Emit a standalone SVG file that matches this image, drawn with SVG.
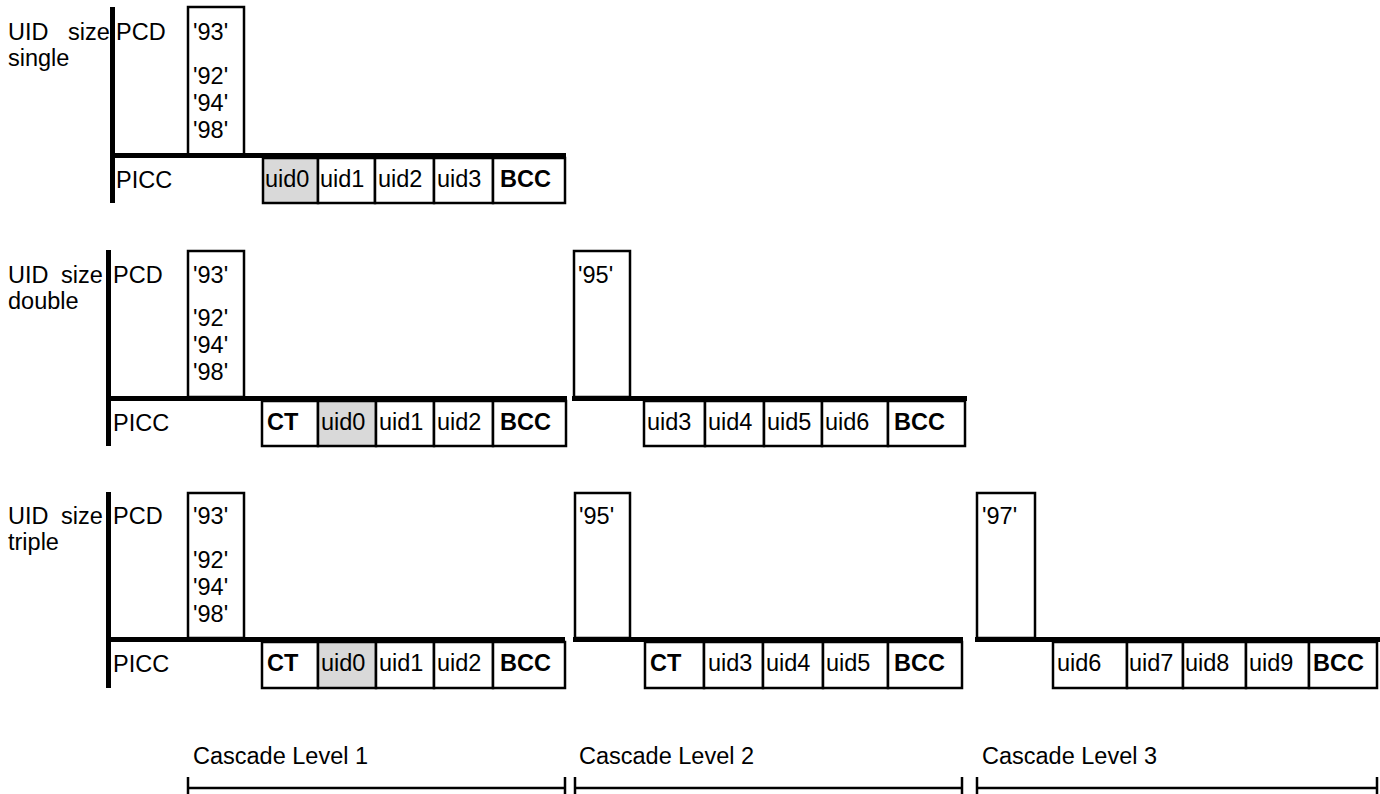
<svg xmlns="http://www.w3.org/2000/svg" width="1380" height="794" viewBox="0 0 1380 794">
<style>
text{font-family:"Liberation Sans",Arial,sans-serif;font-size:23.5px;fill:#000}
.b{font-weight:bold}
.box{fill:#fff;stroke:#000;stroke-width:2.5}
.g{fill:#d9d9d9;stroke:#000;stroke-width:2.5}
.thick{stroke:#000;stroke-width:5;fill:none}
.dim{stroke:#000;stroke-width:2.5;fill:none}
</style>
<rect width="1380" height="794" fill="#fff"/>

<!-- Section 1: single -->
<g id="single">
  <text x="8" y="40" word-spacing="13">UID size</text>
  <text x="8" y="66">single</text>
  <text x="116" y="40">PCD</text>
  <text x="116" y="188">PICC</text>
  <g id="s1-cmd"><rect class="box" x="188" y="7" width="56" height="148"/>
    <text x="193" y="40">'93'</text><text x="193" y="84">'92'</text><text x="193" y="111">'94'</text><text x="193" y="138">'98'</text></g>
  <g id="s1-cells">
    <rect class="g" x="263" y="158" width="55" height="45"/><text x="265" y="187">uid0</text>
    <rect class="box" x="318" y="158" width="57" height="45"/><text x="320" y="187">uid1</text>
    <rect class="box" x="375" y="158" width="59" height="45"/><text x="378" y="187">uid2</text>
    <rect class="box" x="434" y="158" width="59" height="45"/><text x="437" y="187">uid3</text>
    <rect class="box" x="493" y="158" width="72" height="45"/><text class="b" x="500" y="187">BCC</text>
  </g>
</g>

<!-- Section 2: double -->
<g id="double">
  <text x="8" y="283" word-spacing="6">UID size</text>
  <text x="8" y="309">double</text>
  <text x="113" y="283">PCD</text>
  <text x="113" y="431">PICC</text>
  <g id="s2-cmd1"><rect class="box" x="188" y="251" width="56" height="146"/>
    <text x="193" y="283">'93'</text><text x="193" y="326">'92'</text><text x="193" y="353">'94'</text><text x="193" y="380">'98'</text></g>
  <g id="s2-cells1">
    <rect class="box" x="262" y="401" width="56" height="45"/><text class="b" x="267" y="430">CT</text>
    <rect class="g" x="318" y="401" width="58" height="45"/><text x="321" y="430">uid0</text>
    <rect class="box" x="376" y="401" width="58" height="45"/><text x="379" y="430">uid1</text>
    <rect class="box" x="434" y="401" width="59" height="45"/><text x="437" y="430">uid2</text>
    <rect class="box" x="493" y="401" width="73" height="45"/><text class="b" x="500" y="430">BCC</text>
  </g>
  <g id="s2-cmd2"><rect class="box" x="574" y="251" width="56" height="146"/>
    <text x="578" y="283">'95'</text></g>
  <g id="s2-cells2">
    <rect class="box" x="644" y="401" width="61" height="45"/><text x="647" y="430">uid3</text>
    <rect class="box" x="705" y="401" width="59" height="45"/><text x="708" y="430">uid4</text>
    <rect class="box" x="764" y="401" width="58" height="45"/><text x="767" y="430">uid5</text>
    <rect class="box" x="822" y="401" width="66" height="45"/><text x="825" y="430">uid6</text>
    <rect class="box" x="888" y="401" width="77" height="45"/><text class="b" x="894" y="430">BCC</text>
  </g>
</g>

<!-- Section 3: triple -->
<g id="triple">
  <text x="8" y="524" word-spacing="6">UID size</text>
  <text x="8" y="550">triple</text>
  <text x="113" y="524">PCD</text>
  <text x="113" y="672">PICC</text>
  <g id="s3-cmd1"><rect class="box" x="188" y="493" width="56" height="145"/>
    <text x="193" y="524">'93'</text><text x="193" y="568">'92'</text><text x="193" y="595">'94'</text><text x="193" y="622">'98'</text></g>
  <g id="s3-cells1">
    <rect class="box" x="262" y="642" width="56" height="46"/><text class="b" x="267" y="671">CT</text>
    <rect class="g" x="318" y="642" width="58" height="46"/><text x="321" y="671">uid0</text>
    <rect class="box" x="376" y="642" width="58" height="46"/><text x="379" y="671">uid1</text>
    <rect class="box" x="434" y="642" width="59" height="46"/><text x="437" y="671">uid2</text>
    <rect class="box" x="493" y="642" width="72" height="46"/><text class="b" x="500" y="671">BCC</text>
  </g>
  <g id="s3-cmd2"><rect class="box" x="575" y="493" width="55" height="145"/>
    <text x="579" y="524">'95'</text></g>
  <g id="s3-cells2">
    <rect class="box" x="645" y="642" width="59" height="46"/><text class="b" x="650" y="671">CT</text>
    <rect class="box" x="704" y="642" width="59" height="46"/><text x="708" y="671">uid3</text>
    <rect class="box" x="763" y="642" width="60" height="46"/><text x="766" y="671">uid4</text>
    <rect class="box" x="823" y="642" width="65" height="46"/><text x="826" y="671">uid5</text>
    <rect class="box" x="888" y="642" width="74" height="46"/><text class="b" x="894" y="671">BCC</text>
  </g>
  <g id="s3-cmd3"><rect class="box" x="977" y="493" width="58" height="145"/>
    <text x="982" y="524">'97'</text></g>
  <g id="s3-cells3">
    <rect class="box" x="1053" y="642" width="74" height="46"/><text x="1057" y="671">uid6</text>
    <rect class="box" x="1127" y="642" width="56" height="46"/><text x="1129" y="671">uid7</text>
    <rect class="box" x="1183" y="642" width="63" height="46"/><text x="1185" y="671">uid8</text>
    <rect class="box" x="1246" y="642" width="63" height="46"/><text x="1249" y="671">uid9</text>
    <rect class="box" x="1309" y="642" width="68" height="46"/><text class="b" x="1313" y="671">BCC</text>
  </g>
</g>

<!-- Axes / connectors -->
<g id="connectors">
  <line class="thick" x1="112.5" y1="7" x2="112.5" y2="203"/>
  <line class="thick" x1="110" y1="155.5" x2="566" y2="155.5"/>
  <line class="thick" x1="108.5" y1="250" x2="108.5" y2="446"/>
  <line class="thick" x1="106" y1="398.5" x2="567" y2="398.5"/>
  <line class="thick" x1="572" y1="398.5" x2="967" y2="398.5"/>
  <line class="thick" x1="108.5" y1="492" x2="108.5" y2="688"/>
  <line class="thick" x1="106" y1="639.5" x2="565" y2="639.5"/>
  <line class="thick" x1="573" y1="639.5" x2="963" y2="639.5"/>
  <line class="thick" x1="975" y1="639.5" x2="1380" y2="639.5"/>
</g>

<!-- Cascade level dimensions -->
<g id="cascade-levels">
  <text x="193" y="764">Cascade Level 1</text>
  <text x="579" y="764">Cascade Level 2</text>
  <text x="982" y="764">Cascade Level 3</text>
  <path class="dim" d="M188,788H565M188,777V799M565,777V799"/>
  <path class="dim" d="M575,788H962M575,777V799M962,777V799"/>
  <path class="dim" d="M977,788H1377M977,777V799M1377,777V799"/>
</g>
</svg>
